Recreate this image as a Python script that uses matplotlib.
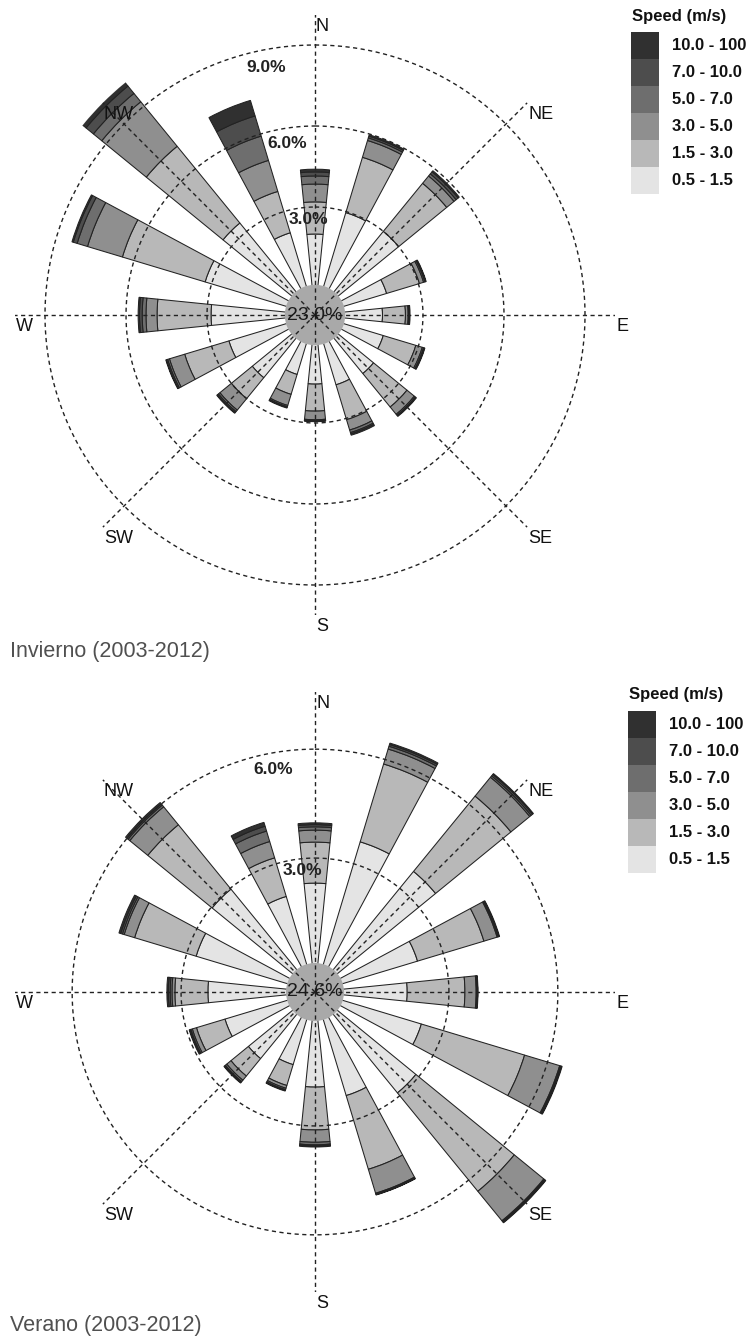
import numpy as np
import matplotlib
matplotlib.use("Agg")
import matplotlib.pyplot as plt
from matplotlib.patches import Rectangle
from matplotlib.transforms import offset_copy

plt.rcParams['font.family'] = ['Liberation Sans', 'DejaVu Sans']

directions = ['N', 'NNE', 'NE', 'ENE', 'E', 'ESE', 'SE', 'SSE',
              'S', 'SSW', 'SW', 'WSW', 'W', 'WNW', 'NW', 'NNW']
speed_bins = ['0.5 - 1.5', '1.5 - 3.0', '3.0 - 5.0', '5.0 - 7.0', '7.0 - 10.0', '10.0 - 100']
bin_colors = ['#e4e4e4', '#b8b8b8', '#8f8f8f', '#6e6e6e', '#4d4d4d', '#303030']

# Invierno (winter) frequencies in % per speed class, one value per direction
inv_c1 = [2.00, 2.96, 3.00, 1.77, 1.50, 1.64, 1.80, 1.70, 1.56, 1.30, 2.00, 2.33, 2.85, 3.25, 3.40, 2.18]
inv_c2 = [1.19, 2.14, 2.30, 1.27, 0.85, 1.26, 1.60, 1.35, 1.00, 0.77, 1.00, 1.71, 2.00, 3.20, 3.67, 1.60]
inv_c3 = [0.66, 0.65, 0.35, 0.16, 0.10, 0.25, 0.35, 0.40, 0.32, 0.43, 0.55, 0.59, 0.41, 1.35, 2.13, 1.20]
inv_c4 = [0.30, 0.10, 0.10, 0.05, 0.03, 0.05, 0.05, 0.10, 0.03, 0.05, 0.07, 0.07, 0.14, 0.40, 0.40, 0.94]
inv_c5 = [0.15, 0.07, 0.10, 0.03, 0.02, 0.03, 0.02, 0.05, 0.02, 0.02, 0.05, 0.05, 0.10, 0.15, 0.35, 0.78]
inv_c6 = [0.10, 0.05, 0.05, 0.02, 0.02, 0.02, 0.03, 0.05, 0.02, 0.03, 0.03, 0.02, 0.05, 0.05, 0.20, 0.60]
inv_calm = 23.0

# Verano (summer)
ver_c1 = [2.31, 3.63, 3.60, 2.26, 1.85, 2.37, 2.90, 2.29, 1.93, 1.40, 1.68, 1.90, 2.26, 2.73, 2.97, 2.06]
ver_c2 = [1.13, 2.24, 2.68, 1.91, 1.59, 2.97, 3.50, 2.12, 1.18, 0.60, 0.62, 0.82, 0.91, 1.77, 2.29, 1.11]
ver_c3 = [0.33, 0.43, 0.67, 0.38, 0.31, 1.01, 1.05, 0.69, 0.34, 0.08, 0.15, 0.12, 0.08, 0.30, 0.64, 0.47]
ver_c4 = [0.09, 0.08, 0.05, 0.03, 0.02, 0.03, 0.03, 0.02, 0.07, 0.04, 0.05, 0.04, 0.05, 0.05, 0.06, 0.30]
ver_c5 = [0.06, 0.05, 0.05, 0.02, 0.02, 0.02, 0.02, 0.02, 0.03, 0.02, 0.03, 0.03, 0.05, 0.05, 0.04, 0.14]
ver_c6 = [0.05, 0.04, 0.03, 0.02, 0.01, 0.02, 0.02, 0.01, 0.03, 0.02, 0.02, 0.02, 0.04, 0.05, 0.05, 0.11]
ver_calm = 24.6

W, H = 753, 1338
fig = plt.figure(figsize=(W / 100, H / 100), dpi=100)

DASH = (0, (3, 2.5))


def rose(cx, cy, px_per_pct, off, calm_r, classes, calm, rings, ring_lbl):
    R = 300  # px radius of the axes
    ax = fig.add_axes([(cx - R) / W, (H - cy - R) / H, 2 * R / W, 2 * R / H],
                      projection='polar')
    ax.set_theta_zero_location('N')
    ax.set_theta_direction(-1)
    rmax = R / px_per_pct
    ax.set_ylim(0, rmax)
    ax.axis('off')

    theta = np.deg2rad(np.arange(len(directions)) * 22.5)
    bottom = np.full(len(directions), off)
    for vals, col in zip(classes, bin_colors):
        vals = np.array(vals)
        ax.bar(theta, vals, width=np.deg2rad(11.5), bottom=bottom, color=col,
               edgecolor='#222222', linewidth=0.75, zorder=2)
        bottom = bottom + vals

    ax.bar(0, calm_r, width=2 * np.pi, bottom=0, color='#a9a9a9',
           edgecolor='none', zorder=3)

    t = np.linspace(0, 2 * np.pi, 500)
    for ring in rings:
        ax.plot(t, np.full_like(t, off + ring), ls=DASH, color='#222222', lw=1.0, zorder=4)
    for a in range(0, 360, 45):
        ax.plot([np.deg2rad(a)] * 2, [0, rmax * 1.005], ls=DASH, color='#222222', lw=1.0, zorder=4)

    for ring, (ang, rr) in zip(rings, ring_lbl):
        ax.text(np.deg2rad(ang), rr, f'{ring:.1f}%', ha='center', va='center',
                fontsize=12.5, fontweight='bold', color='#222222', zorder=6)
    ax.text(0, 0, f'{calm:.1f}%', ha='center', va='center', fontsize=14,
            color='#1a1a1a', zorder=6)

    tr = offset_copy(ax.transData, fig=fig, x=1, y=-3, units='dots')
    for name, a in zip(['N', 'NE', 'E', 'SE', 'S', 'SW', 'W', 'NW'], range(0, 360, 45)):
        ax.text(np.deg2rad(a), rmax, name, ha='left', va='top', fontsize=13,
                color='#111111', transform=tr, zorder=6)
    return ax


rose(315, 315, 27.0, 1.0, 1.12,
     [inv_c1, inv_c2, inv_c3, inv_c4, inv_c5, inv_c6], inv_calm,
     [3, 6, 9], [(-4.2, 3.53), (-9.2, 6.45), (-11.2, 9.33)])
rose(315, 992, 36.3, 0.69, 0.8,
     [ver_c1, ver_c2, ver_c3, ver_c4, ver_c5, ver_c6], ver_calm,
     [3, 6], [(-6.1, 3.38), (-10.7, 6.23)])

# overlay for legends and titles, in pixel coordinates
ov = fig.add_axes([0, 0, 1, 1])
ov.set_xlim(0, W)
ov.set_ylim(H, 0)
ov.axis('off')


def speed_legend(x, y):
    ov.text(x + 1, y, 'Speed (m/s)', ha='left', va='center', fontsize=12,
            fontweight='bold', color='#111111')
    top = y + 16
    for i, (lab, col) in enumerate(zip(speed_bins[::-1], bin_colors[::-1])):
        ov.add_patch(Rectangle((x, top + i * 27), 28, 27, facecolor=col, edgecolor='none'))
        ov.text(x + 41, top + i * 27 + 13.5, lab, ha='left', va='center',
                fontsize=12, fontweight='bold', color='#111111')


speed_legend(631, 16)
speed_legend(628, 695)

ov.text(10, 652, 'Invierno (2003-2012)', ha='left', va='center', fontsize=15.5, color='#505050')
ov.text(10, 1325, 'Verano (2003-2012)', ha='left', va='center', fontsize=15.5, color='#505050')

fig.savefig('out.png', dpi=100)
